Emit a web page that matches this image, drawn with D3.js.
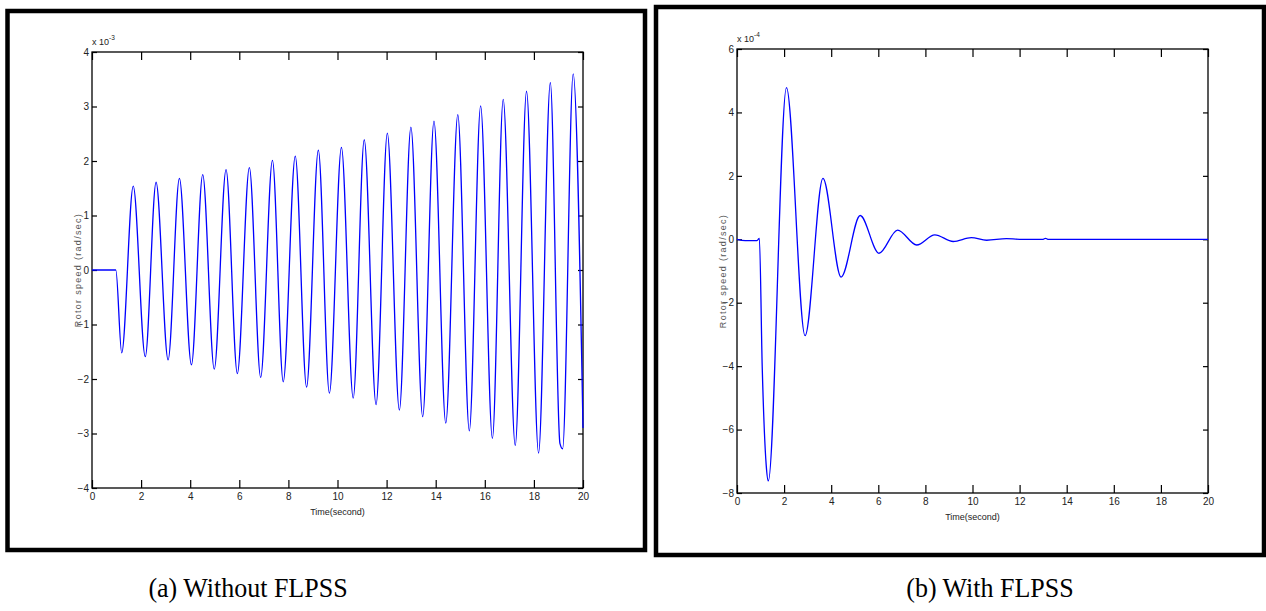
<!DOCTYPE html>
<html>
<head>
<meta charset="utf-8">
<script src="https://cdn.jsdelivr.net/npm/d3@7"></script>
<style>
    body { margin: 0; background: #fff; }
    svg { display: block; }
    .tick text { font-family: "Liberation Sans Narrow", "Arial Narrow", "Liberation Sans", sans-serif; font-size: 10px; fill: #222; }
    .tick line { stroke: #000; stroke-width: 1.2; }
    .domain { display: none; }
</style>
</head>
<body>
<div id="chart"></div>
<script>
// Panel (a): rotor speed without FLPSS, values in x 10^-3 rad/sec
const timeA = [0, 0.97, 1.21, 1.68, 2.17, 2.61, 3.10, 3.56, 4.05, 4.51, 4.98, 5.46, 5.92, 6.41,
    6.87, 7.35, 7.79, 8.28, 8.74, 9.22, 9.67, 10.16, 10.64, 11.09, 11.57, 12.03, 12.52, 12.99,
    13.47, 13.93, 14.41, 14.90, 15.37, 15.83, 16.31, 16.75, 17.24, 17.70, 18.19, 18.67, 19.06,
    19.17, 19.60, 20];
const speedA = [0, 0, -1.52, 1.54, -1.59, 1.61, -1.65, 1.68, -1.74, 1.75, -1.82, 1.84, -1.90, 1.88,
    -1.97, 2.01, -2.05, 2.09, -2.15, 2.20, -2.26, 2.25, -2.35, 2.39, -2.47, 2.51, -2.57, 2.62,
    -2.69, 2.73, -2.81, 2.85, -2.95, 3.01, -3.09, 3.13, -3.22, 3.28, -3.36, 3.44, -3.18,
    -3.28, 3.60, -2.90];

// Panel (b): rotor speed with FLPSS, values in x 10^-4 rad/sec
const timeB = [0, 0.35, 0.85, 0.95, 1.07, 1.24, 1.33, 2.10, 2.89, 3.65, 4.42, 5.23, 6.03, 6.82,
    7.63, 8.40, 9.18, 9.95, 10.60, 11.44, 12.0, 13.0, 13.1, 13.2, 20];
const speedB = [0, -0.04, -0.04, 0.03, -4.0, -7.12, -7.62, 4.78, -3.04, 1.92, -1.19, 0.75, -0.44, 0.29,
    -0.18, 0.14, -0.07, 0.05, -0.03, 0.02, 0, 0, 0.03, 0, 0];

const xTicks = [0, 2, 4, 6, 8, 10, 12, 14, 16, 18, 20];
const yTicksA = [-4, -3, -2, -1, 0, 1, 2, 3, 4];
const yTicksB = [-8, -6, -4, -2, 0, 2, 4, 6];
const captions = ['(a) Without FLPSS', '(b) With FLPSS'];

const width = 1266, height = 611;

const svg = d3.select('#chart').append('svg')
    .attr('width', width)
    .attr('height', height);

function drawPanel(p) {
    // thick frame round the figure
    svg.append('rect')
        .attr('x', p.frame[0]).attr('y', p.frame[1])
        .attr('width', p.frame[2] - p.frame[0]).attr('height', p.frame[3] - p.frame[1])
        .attr('fill', 'none').attr('stroke', '#000').attr('stroke-width', 4.5);

    const x = d3.scaleLinear().domain([0, 20]).range([p.left, p.right]);
    const y = d3.scaleLinear().domain(p.yDomain).range([p.bottom, p.top]);

    const g = svg.append('g');

    g.append('g')
        .attr('transform', `translate(0,${p.bottom})`)
        .call(d3.axisBottom(x).tickValues(xTicks).tickSizeInner(-8).tickSizeOuter(0).tickPadding(5));
    g.append('g')
        .attr('transform', `translate(0,${p.top})`)
        .call(d3.axisTop(x).tickValues(xTicks).tickSizeInner(-8).tickSizeOuter(0).tickFormat(''));
    g.append('g')
        .attr('transform', `translate(${p.left},0)`)
        .call(d3.axisLeft(y).tickValues(p.yTicks).tickSizeInner(-5).tickSizeOuter(0).tickPadding(3));
    g.append('g')
        .attr('transform', `translate(${p.right},0)`)
        .call(d3.axisRight(y).tickValues(p.yTicks).tickSizeInner(-5).tickSizeOuter(0).tickFormat(''));

    // axes box
    g.append('rect')
        .attr('x', p.left).attr('y', p.top)
        .attr('width', p.right - p.left).attr('height', p.bottom - p.top)
        .attr('fill', 'none').attr('stroke', '#000').attr('stroke-width', 1.3);

    const line = d3.line()
        .x((d, i) => x(p.time[i]))
        .y(d => y(d))
        .curve(d3.curveMonotoneX);

    g.append('path')
        .datum(p.values)
        .attr('fill', 'none')
        .attr('stroke', '#0000ff')
        .attr('stroke-width', 1.3)
        .attr('d', line);

    // exponent label
    const ex = g.append('text')
        .attr('x', p.left).attr('y', p.top - 7)
        .attr('font-family', '"Liberation Sans Narrow", "Liberation Sans", sans-serif')
        .attr('font-size', 9).attr('fill', '#222');
    ex.append('tspan').text('x 10');
    ex.append('tspan').attr('dy', -5).attr('font-size', 6.5).text(p.exponent);

    g.append('text')
        .attr('x', (p.left + p.right) / 2).attr('y', p.bottom + 27)
        .attr('text-anchor', 'middle')
        .attr('font-family', '"Liberation Sans Narrow", "Liberation Sans", sans-serif')
        .attr('font-size', 9).attr('fill', '#222')
        .text('Time(second)');

    g.append('text')
        .attr('transform', `translate(${p.left - 11},${(p.top + p.bottom) / 2}) rotate(-90)`)
        .attr('text-anchor', 'middle')
        .attr('font-family', '"Liberation Sans", Arial, sans-serif')
        .attr('font-size', 9).attr('letter-spacing', 1.3).attr('fill', '#555')
        .text('Rotor speed (rad/sec)');

    svg.append('text')
        .attr('transform', `translate(${p.captionX},597) scale(1,1.08)`)
        .attr('text-anchor', 'middle')
        .attr('font-family', '"Liberation Serif", "Times New Roman", serif')
        .attr('font-size', 26).attr('fill', '#000')
        .text(p.caption);
}

drawPanel({
    frame: [7.5, 11, 645, 550],
    left: 92, right: 583, top: 52, bottom: 488,
    yDomain: [-4, 4], yTicks: yTicksA, exponent: '-3',
    time: timeA, values: speedA,
    caption: captions[0], captionX: 248
});

drawPanel({
    frame: [656, 7, 1264, 555],
    left: 737, right: 1208, top: 49, bottom: 493,
    yDomain: [-8, 6], yTicks: yTicksB, exponent: '-4',
    time: timeB, values: speedB,
    caption: captions[1], captionX: 990
});
</script>
</body>
</html>
